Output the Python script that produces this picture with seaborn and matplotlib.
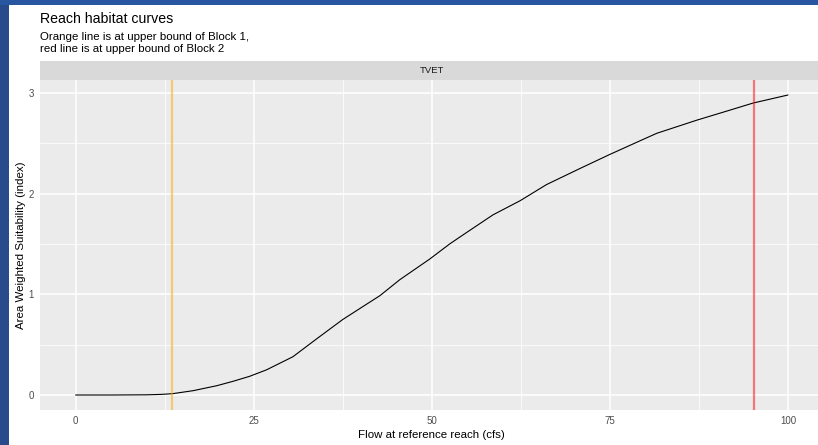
import numpy as np
import pandas as pd
import matplotlib
matplotlib.use("Agg")
import matplotlib.pyplot as plt
from matplotlib.patches import Rectangle
from matplotlib.ticker import MultipleLocator
import seaborn as sns

# ---- data ----
flow = [0, 5, 10, 12, 13.6, 16.5, 19.8, 22.1, 24.4, 26.8, 30.5, 33.8, 37.5,
        40.8, 42.7, 45.5, 49.7, 52.5, 54.9, 58.6, 62.4, 66.1, 70.8, 75.0,
        79.7, 81.6, 87.2, 91.4, 95.1, 100]
awsi = [0.0, 0.0, 0.002, 0.006, 0.013, 0.043, 0.092, 0.136, 0.185, 0.25, 0.38,
        0.556, 0.75, 0.90, 0.986, 1.145, 1.35, 1.50, 1.615, 1.79, 1.93, 2.09,
        2.25, 2.39, 2.54, 2.60, 2.73, 2.82, 2.90, 2.98]
block1_upper = 13.6
block2_upper = 95.2
facet_label = "TVET"
title = "Reach habitat curves"
subtitle = ["Orange line is at upper bound of Block 1,",
            "red line is at upper bound of Block 2"]
xlabel = "Flow at reference reach (cfs)"
ylabel = "Area Weighted Suitability (index)"
xticks = [0, 25, 50, 75, 100]
yticks = [0, 1, 2, 3]

df = pd.DataFrame({"flow": flow, "awsi": awsi})

sns.set_theme(style="white")
plt.rcParams["font.family"] = ["Liberation Sans", "DejaVu Sans"]

W, H = 818, 445
fig = plt.figure(figsize=(W / 100, H / 100), dpi=100)
fig.patch.set_facecolor("white")

# screenshot border (blue frame)
fig.patches.append(Rectangle((0, 0), 9 / W, 1, transform=fig.transFigure,
                             facecolor="#284b8c", edgecolor="none", zorder=0))
fig.patches.append(Rectangle((0, 1 - 5 / H), 1, 5 / H, transform=fig.transFigure,
                             facecolor="#2856a0", edgecolor="none", zorder=0))

# panel geometry (pixels)
pl, pr, pt, pb = 40, 823.6, 80, 410
ax = fig.add_axes([pl / W, 1 - pb / H, (pr - pl) / W, (pb - pt) / H])
ax.set_facecolor("#EBEBEB")
for s in ax.spines.values():
    s.set_visible(False)

ax.set_xlim(-5, 105)
ax.set_ylim(-0.149, 3.129)
ax.set_xticks(xticks)
ax.set_yticks(yticks)
ax.xaxis.set_minor_locator(MultipleLocator(12.5))
ax.yaxis.set_minor_locator(MultipleLocator(0.5))
ax.grid(which="major", color="white", lw=1.1)
ax.grid(which="minor", color="white", lw=0.55)
ax.set_axisbelow(True)
ax.tick_params(which="major", direction="out", length=3, width=0.8,
               color="#333333", labelsize=7, labelcolor="#4D4D4D", pad=1.5)
ax.tick_params(which="minor", length=0)

sns.lineplot(data=df, x="flow", y="awsi", ax=ax, color="black", lw=0.8)
ax.axvline(block1_upper, color="orange", alpha=0.5, lw=1.6)
ax.axvline(block2_upper, color="red", alpha=0.5, lw=1.6)
ax.set_xlabel("")
ax.set_ylabel("")

# facet strip
fig.patches.append(Rectangle((pl / W, 1 - pt / H), (pr - pl) / W, 19 / H,
                             transform=fig.transFigure, facecolor="#D9D9D9",
                             edgecolor="none", zorder=1))
fig.text((pl + pr) / 2 / W, 1 - 70.5 / H, facet_label, ha="center", va="center",
         fontsize=6.8, color="#1A1A1A")

# titles
fig.text(pl / W, 1 - 23 / H, title, ha="left", va="baseline", fontsize=10.2,
         color="black")
fig.text(pl / W, 1 - 40.5 / H, subtitle[0], ha="left", va="baseline",
         fontsize=8.25, color="black")
fig.text(pl / W, 1 - 52.5 / H, subtitle[1], ha="left", va="baseline",
         fontsize=8.25, color="black")

# axis titles
fig.text((pl + pr) / 2 / W, 1 - 435.5 / H, xlabel, ha="center", va="center",
         fontsize=8.25, color="black")
fig.text(21 / W, 1 - (pt + pb) / 2 / H, ylabel, ha="center", va="center",
         rotation=90, fontsize=8.25, color="black")

fig.savefig("out.png", dpi=100, facecolor=fig.get_facecolor())
